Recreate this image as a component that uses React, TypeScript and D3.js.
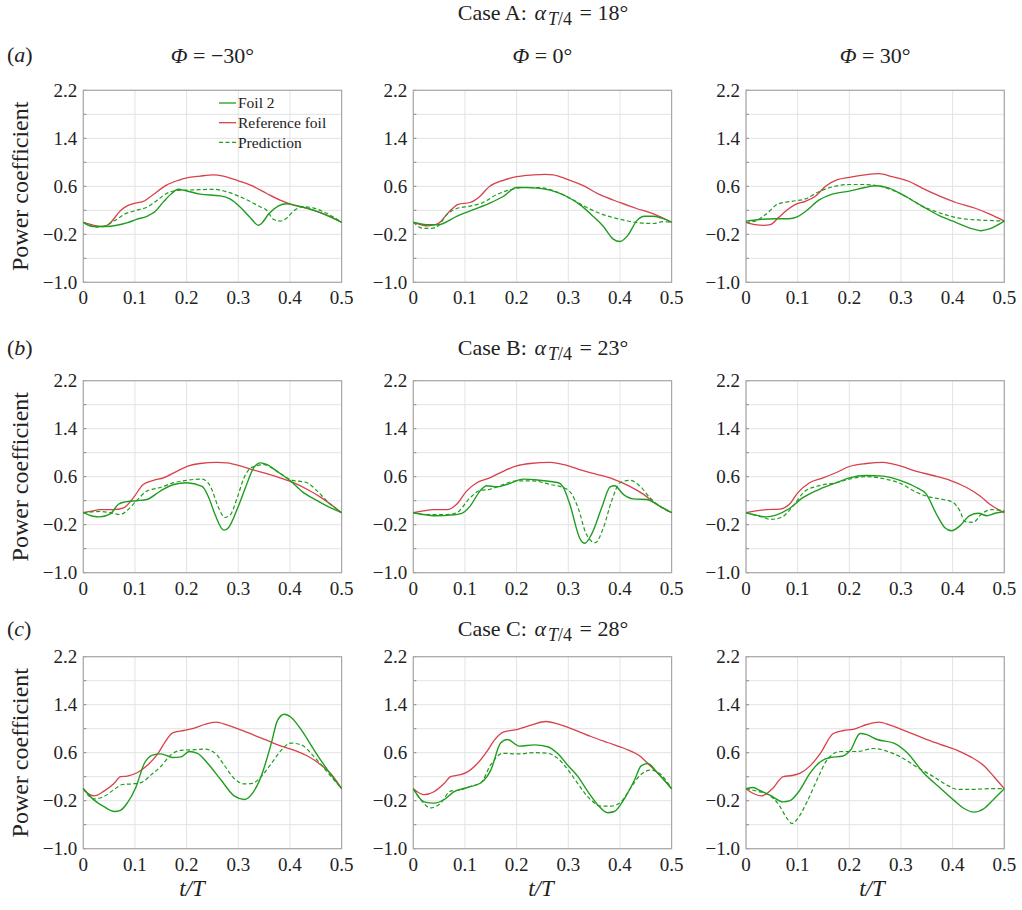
import React from "react";
import * as d3 from "d3";

type P = [number, number];

const xTicks = [0, 0.1, 0.2, 0.3, 0.4, 0.5];
const yTicks = [-1.0, -0.2, 0.6, 1.4, 2.2];
const yGrid = [-1.0, -0.6, -0.2, 0.2, 0.6, 1.0, 1.4, 1.8, 2.2];
const caseNames = ["Case A", "Case B", "Case C"];
const caseAngles = ["18°", "23°", "28°"];
const rowLabels = ["a", "b", "c"];
const phiLabels = ["−30°", "0°", "30°"];
const legendLabels = ["Foil 2", "Reference foil", "Prediction"];

// ---- Case A ----
const A1_ref: P[] = [[0,0],[0.039,-0.07],[0.048,-0.04],[0.074,0.21],[0.084,0.27],[0.097,0.31],[0.119,0.36],[0.135,0.46],[0.161,0.62],[0.184,0.70],[0.2,0.74],[0.226,0.77],[0.252,0.79],[0.271,0.77],[0.3,0.69],[0.326,0.61],[0.355,0.48],[0.381,0.37],[0.406,0.29],[0.435,0.23],[0.465,0.14],[0.5,0]];
const A1_foil: P[] = [[0,0],[0.019,-0.07],[0.042,-0.07],[0.065,-0.05],[0.084,-0.01],[0.103,0.05],[0.123,0.1],[0.139,0.18],[0.155,0.34],[0.171,0.48],[0.184,0.55],[0.197,0.53],[0.226,0.47],[0.265,0.44],[0.284,0.39],[0.303,0.26],[0.323,0.08],[0.339,-0.05],[0.345,-0.02],[0.358,0.13],[0.377,0.27],[0.394,0.31],[0.406,0.29],[0.435,0.23],[0.465,0.14],[0.5,0]];
const A1_pred: P[] = [[0,0],[0.026,-0.08],[0.042,-0.06],[0.061,0.03],[0.081,0.14],[0.103,0.2],[0.123,0.25],[0.142,0.36],[0.161,0.48],[0.181,0.53],[0.213,0.54],[0.252,0.55],[0.277,0.51],[0.31,0.4],[0.342,0.26],[0.355,0.2],[0.368,0.05],[0.381,0.02],[0.394,0.07],[0.406,0.18],[0.426,0.26],[0.445,0.24],[0.471,0.15],[0.5,0]];

const A2_ref: P[] = [[0,0],[0.029,-0.06],[0.048,-0.02],[0.071,0.19],[0.087,0.3],[0.11,0.33],[0.126,0.41],[0.148,0.6],[0.174,0.7],[0.2,0.76],[0.232,0.79],[0.255,0.8],[0.271,0.79],[0.297,0.72],[0.329,0.61],[0.361,0.46],[0.4,0.33],[0.432,0.23],[0.465,0.14],[0.5,0]];
const A2_foil: P[] = [[0,0],[0.026,-0.04],[0.048,-0.04],[0.084,0.1],[0.116,0.21],[0.148,0.32],[0.174,0.43],[0.2,0.58],[0.219,0.58],[0.239,0.57],[0.271,0.52],[0.297,0.43],[0.323,0.29],[0.348,0.1],[0.368,-0.07],[0.387,-0.28],[0.4,-0.32],[0.416,-0.21],[0.432,0.02],[0.448,0.1],[0.465,0.1],[0.484,0.06],[0.5,0]];
const A2_pred: P[] = [[0,0],[0.019,-0.1],[0.035,-0.1],[0.048,-0.06],[0.065,0.13],[0.084,0.23],[0.11,0.27],[0.135,0.33],[0.161,0.46],[0.187,0.54],[0.213,0.58],[0.239,0.58],[0.277,0.51],[0.31,0.37],[0.342,0.22],[0.374,0.11],[0.406,0.04],[0.439,-0.01],[0.465,-0.02],[0.484,0.01],[0.5,0]];

const A3_ref: P[] = [[0,0],[0.018,-0.04],[0.034,-0.05],[0.047,-0.04],[0.063,0.08],[0.08,0.21],[0.096,0.3],[0.115,0.35],[0.135,0.44],[0.154,0.6],[0.177,0.71],[0.2,0.75],[0.23,0.79],[0.257,0.81],[0.283,0.76],[0.316,0.68],[0.341,0.57],[0.374,0.44],[0.406,0.33],[0.445,0.23],[0.471,0.14],[0.5,0.02]];
const A3_foil: P[] = [[0,0.02],[0.031,0.05],[0.057,0.06],[0.083,0.06],[0.099,0.09],[0.115,0.18],[0.141,0.37],[0.167,0.47],[0.2,0.52],[0.23,0.58],[0.25,0.61],[0.277,0.57],[0.309,0.43],[0.341,0.27],[0.374,0.11],[0.406,0],[0.439,-0.11],[0.455,-0.14],[0.471,-0.11],[0.5,0.02]];
const A3_pred: P[] = [[0,0],[0.018,0.02],[0.038,0.13],[0.063,0.31],[0.089,0.35],[0.115,0.39],[0.141,0.51],[0.167,0.59],[0.2,0.63],[0.23,0.63],[0.264,0.59],[0.303,0.46],[0.341,0.27],[0.374,0.16],[0.406,0.08],[0.445,0.04],[0.471,0.03],[0.5,0.02]];

// ---- Case B ----
const B1_ref: P[] = [[0,0],[0.019,0.03],[0.032,0.05],[0.058,0.05],[0.078,0.08],[0.097,0.25],[0.116,0.47],[0.136,0.54],[0.155,0.58],[0.181,0.69],[0.204,0.78],[0.226,0.82],[0.259,0.84],[0.278,0.83],[0.304,0.78],[0.33,0.71],[0.355,0.65],[0.381,0.58],[0.407,0.5],[0.433,0.39],[0.459,0.26],[0.5,0]];
const B1_foil: P[] = [[0,0],[0.019,-0.06],[0.032,-0.07],[0.052,-0.02],[0.068,0.14],[0.081,0.18],[0.103,0.2],[0.123,0.22],[0.149,0.36],[0.175,0.47],[0.2,0.5],[0.23,0.44],[0.243,0.25],[0.255,-0.03],[0.272,-0.29],[0.281,-0.25],[0.298,0.06],[0.314,0.42],[0.33,0.75],[0.343,0.83],[0.356,0.8],[0.375,0.69],[0.401,0.53],[0.427,0.33],[0.453,0.2],[0.472,0.11],[0.5,0]];
const B1_pred: P[] = [[0,0],[0.032,0.02],[0.052,0],[0.071,-0.03],[0.084,0.03],[0.103,0.2],[0.123,0.36],[0.149,0.42],[0.175,0.5],[0.2,0.54],[0.23,0.56],[0.246,0.44],[0.262,0.08],[0.274,-0.08],[0.285,-0.03],[0.298,0.25],[0.311,0.58],[0.327,0.76],[0.35,0.8],[0.375,0.69],[0.401,0.55],[0.433,0.5],[0.453,0.36],[0.472,0.19],[0.5,0]];

const B2_ref: P[] = [[0,0],[0.019,0.03],[0.039,0.05],[0.065,0.05],[0.084,0.14],[0.103,0.36],[0.123,0.5],[0.148,0.58],[0.174,0.69],[0.2,0.78],[0.226,0.82],[0.265,0.84],[0.297,0.79],[0.329,0.7],[0.355,0.64],[0.387,0.56],[0.419,0.44],[0.445,0.31],[0.471,0.14],[0.5,0]];
const B2_foil: P[] = [[0,0],[0.019,-0.03],[0.045,-0.05],[0.071,-0.04],[0.094,-0.01],[0.11,0.11],[0.129,0.36],[0.142,0.45],[0.161,0.43],[0.181,0.47],[0.213,0.56],[0.245,0.54],[0.281,0.5],[0.29,0.43],[0.303,0.14],[0.323,-0.44],[0.332,-0.51],[0.345,-0.36],[0.365,0.09],[0.381,0.43],[0.39,0.45],[0.406,0.31],[0.426,0.23],[0.452,0.22],[0.471,0.14],[0.5,0]];
const B2_pred: P[] = [[0,0],[0.019,-0.03],[0.039,-0.03],[0.065,-0.03],[0.084,0],[0.11,0.25],[0.129,0.37],[0.148,0.39],[0.174,0.47],[0.2,0.53],[0.232,0.53],[0.265,0.47],[0.29,0.42],[0.306,0.32],[0.319,0.08],[0.335,-0.36],[0.352,-0.5],[0.368,-0.25],[0.384,0.2],[0.4,0.5],[0.419,0.54],[0.439,0.44],[0.458,0.25],[0.477,0.11],[0.5,0]];

const B3_ref: P[] = [[0,0],[0.019,0.03],[0.039,0.05],[0.065,0.06],[0.084,0.14],[0.1,0.33],[0.123,0.5],[0.149,0.58],[0.175,0.67],[0.2,0.77],[0.233,0.82],[0.265,0.84],[0.298,0.78],[0.33,0.69],[0.362,0.62],[0.395,0.54],[0.427,0.42],[0.453,0.28],[0.472,0.14],[0.5,0]];
const B3_foil: P[] = [[0,0],[0.019,-0.04],[0.039,-0.07],[0.058,-0.04],[0.084,0.07],[0.11,0.25],[0.142,0.39],[0.175,0.5],[0.2,0.58],[0.233,0.62],[0.265,0.61],[0.298,0.54],[0.33,0.42],[0.349,0.31],[0.369,-0.03],[0.385,-0.25],[0.398,-0.3],[0.414,-0.22],[0.433,-0.05],[0.45,-0.01],[0.466,-0.05],[0.482,-0.01],[0.5,0.02]];
const B3_pred: P[] = [[0,0],[0.026,-0.06],[0.049,-0.11],[0.068,-0.08],[0.091,0.11],[0.113,0.35],[0.142,0.45],[0.175,0.5],[0.2,0.56],[0.233,0.6],[0.265,0.57],[0.298,0.49],[0.33,0.34],[0.356,0.26],[0.382,0.22],[0.401,0.17],[0.414,0.03],[0.424,-0.15],[0.44,-0.16],[0.456,-0.02],[0.475,0.05],[0.5,0.03]];

// ---- Case C ----
const C1_ref: P[] = [[0,0],[0.011,-0.09],[0.021,-0.12],[0.04,-0.04],[0.06,0.09],[0.072,0.2],[0.085,0.21],[0.105,0.27],[0.124,0.39],[0.144,0.58],[0.157,0.76],[0.173,0.93],[0.195,0.97],[0.215,1.01],[0.234,1.07],[0.257,1.11],[0.279,1.06],[0.305,0.98],[0.331,0.89],[0.357,0.8],[0.383,0.71],[0.409,0.64],[0.435,0.54],[0.461,0.39],[0.48,0.24],[0.5,0]];
const C1_foil: P[] = [[0,0],[0.021,-0.19],[0.04,-0.3],[0.06,-0.38],[0.072,-0.36],[0.085,-0.24],[0.102,0.03],[0.118,0.42],[0.134,0.56],[0.15,0.58],[0.173,0.52],[0.189,0.53],[0.205,0.62],[0.221,0.59],[0.241,0.42],[0.267,0.14],[0.292,-0.12],[0.312,-0.18],[0.328,-0.07],[0.344,0.2],[0.364,0.76],[0.376,1.14],[0.389,1.24],[0.402,1.19],[0.422,0.98],[0.447,0.64],[0.473,0.31],[0.5,0]];
const C1_pred: P[] = [[0,0],[0.021,-0.17],[0.04,-0.13],[0.06,-0.01],[0.076,0.07],[0.095,0.08],[0.114,0.11],[0.131,0.23],[0.15,0.37],[0.169,0.56],[0.189,0.64],[0.215,0.65],[0.234,0.66],[0.254,0.6],[0.273,0.39],[0.292,0.17],[0.312,0.08],[0.328,0.09],[0.344,0.2],[0.364,0.42],[0.383,0.64],[0.402,0.76],[0.422,0.73],[0.447,0.53],[0.473,0.27],[0.5,0]];

const C2_ref: P[] = [[0,0],[0.021,-0.1],[0.04,-0.05],[0.06,0.09],[0.072,0.2],[0.089,0.23],[0.105,0.28],[0.124,0.42],[0.144,0.64],[0.157,0.81],[0.173,0.94],[0.202,0.99],[0.228,1.06],[0.257,1.12],[0.279,1.08],[0.312,0.98],[0.344,0.87],[0.376,0.77],[0.409,0.67],[0.441,0.53],[0.454,0.42],[0.473,0.26],[0.5,0]];
const C2_foil: P[] = [[0,0],[0.021,-0.22],[0.04,-0.24],[0.06,-0.18],[0.079,-0.05],[0.105,0.02],[0.131,0.1],[0.15,0.31],[0.169,0.76],[0.182,0.82],[0.205,0.71],[0.234,0.73],[0.26,0.7],[0.279,0.59],[0.299,0.39],[0.318,0.21],[0.338,-0.05],[0.357,-0.27],[0.376,-0.4],[0.389,-0.38],[0.409,-0.16],[0.428,0.14],[0.441,0.38],[0.454,0.42],[0.473,0.26],[0.5,0]];
const C2_pred: P[] = [[0,0],[0.014,-0.18],[0.034,-0.32],[0.053,-0.24],[0.072,-0.04],[0.092,-0.02],[0.111,0.04],[0.131,0.1],[0.15,0.4],[0.173,0.59],[0.202,0.58],[0.234,0.6],[0.26,0.59],[0.279,0.51],[0.299,0.32],[0.318,0.09],[0.344,-0.19],[0.364,-0.29],[0.383,-0.29],[0.402,-0.22],[0.422,0.03],[0.441,0.24],[0.46,0.31],[0.48,0.23],[0.5,0]];

const C3_ref: P[] = [[0,0],[0.014,-0.08],[0.03,-0.12],[0.05,-0.01],[0.072,0.2],[0.089,0.22],[0.105,0.26],[0.124,0.38],[0.144,0.59],[0.169,0.92],[0.189,0.97],[0.208,0.99],[0.234,1.07],[0.257,1.11],[0.279,1.06],[0.312,0.95],[0.344,0.84],[0.376,0.74],[0.409,0.64],[0.435,0.53],[0.461,0.38],[0.48,0.2],[0.5,0]];
const C3_foil: P[] = [[0,0],[0.014,0.02],[0.027,-0.03],[0.047,-0.11],[0.072,-0.22],[0.085,-0.2],[0.102,-0.05],[0.124,0.26],[0.144,0.45],[0.163,0.52],[0.186,0.54],[0.202,0.64],[0.221,0.92],[0.234,0.9],[0.254,0.82],[0.286,0.76],[0.312,0.6],[0.344,0.26],[0.376,0.01],[0.402,-0.19],[0.422,-0.33],[0.441,-0.39],[0.461,-0.33],[0.48,-0.17],[0.5,0]];
const C3_pred: P[] = [[0,0],[0.021,-0.04],[0.047,-0.12],[0.063,-0.26],[0.079,-0.49],[0.089,-0.58],[0.098,-0.52],[0.118,-0.22],[0.137,0.14],[0.157,0.48],[0.182,0.62],[0.215,0.62],[0.247,0.67],[0.267,0.64],[0.299,0.53],[0.331,0.36],[0.363,0.2],[0.389,0.06],[0.409,-0.01],[0.441,-0.01],[0.473,0],[0.5,0]];

const panelData: { foil: P[]; ref: P[]; pred: P[] }[][] = [
  [
    { foil: A1_foil, ref: A1_ref, pred: A1_pred },
    { foil: A2_foil, ref: A2_ref, pred: A2_pred },
    { foil: A3_foil, ref: A3_ref, pred: A3_pred },
  ],
  [
    { foil: B1_foil, ref: B1_ref, pred: B1_pred },
    { foil: B2_foil, ref: B2_ref, pred: B2_pred },
    { foil: B3_foil, ref: B3_ref, pred: B3_pred },
  ],
  [
    { foil: C1_foil, ref: C1_ref, pred: C1_pred },
    { foil: C2_foil, ref: C2_ref, pred: C2_pred },
    { foil: C3_foil, ref: C3_ref, pred: C3_pred },
  ],
];

const W = 1022;
const H = 910;
const colLeft = [83.3, 413.3, 746];
const rowTop = [90.3, 380.7, 656.7];
const PW = 258.3;
const PH = 192;
const GREEN = "#1f9d1f";
const RED = "#d8414c";
const FONT = "Liberation Serif, DejaVu Serif, Times New Roman, serif";
const TXT: React.CSSProperties = { fontFamily: FONT, whiteSpace: "pre" };

const fmtY = (v: number) => (v < 0 ? "−" + Math.abs(v).toFixed(1) : v.toFixed(1));
const fmtX = (v: number) => (v === 0 ? "0" : v.toFixed(1));

function Panel({ r, c }: { r: number; c: number }) {
  const x0 = colLeft[c];
  const y0 = rowTop[r];
  const x = d3.scaleLinear().domain([0, 0.5]).range([x0, x0 + PW]);
  const y = d3.scaleLinear().domain([-1, 2.2]).range([y0 + PH, y0]);
  const line = d3
    .line<P>()
    .x((d) => x(d[0]))
    .y((d) => y(d[1]))
    .curve(d3.curveMonotoneX);
  const data = panelData[r][c];
  return (
    <g>
      {yGrid.map((v) => (
        <line key={"gy" + v} x1={x0} x2={x0 + PW} y1={y(v)} y2={y(v)} stroke="#e3e3e3" strokeWidth={1} />
      ))}
      {xTicks.map((v) => (
        <line key={"gx" + v} x1={x(v)} x2={x(v)} y1={y0} y2={y0 + PH} stroke="#e3e3e3" strokeWidth={1} />
      ))}
      {yGrid.map((v) => (
        <line key={"ty" + v} x1={x0} x2={x0 + 3} y1={y(v)} y2={y(v)} stroke="#888" strokeWidth={1} />
      ))}
      <rect x={x0} y={y0} width={PW} height={PH} fill="none" stroke="#a8a8a8" strokeWidth={1.2} />
      <path d={line(data.ref) || ""} fill="none" stroke={RED} strokeWidth={1.3} />
      <path d={line(data.pred) || ""} fill="none" stroke={GREEN} strokeWidth={1.2} strokeDasharray="4,2.5" />
      <path d={line(data.foil) || ""} fill="none" stroke={GREEN} strokeWidth={1.4} />
      {yTicks.map((v) => (
        <text key={"yl" + v} x={x0 - 6} y={y(v)} dy="0.35em" textAnchor="end" fontSize={19} style={TXT} fill="#222">
          {fmtY(v)}
        </text>
      ))}
      {xTicks.map((v) => (
        <text key={"xl" + v} x={x(v)} y={y0 + PH + 22} textAnchor="middle" fontSize={19} style={TXT} fill="#222">
          {fmtX(v)}
        </text>
      ))}
    </g>
  );
}

export default function App() {
  const titleY = [20, 355, 636];
  const tLabelX = [192, 541, 872];
  return (
    <svg width={W} height={H} style={{ display: "block", position: "absolute", left: 0, top: 0, background: "#fff" }}>
      <rect x={0} y={0} width={W} height={H} fill="#fff" />
      {caseNames.map((nm, r) => (
        <g key={"t" + r}>
          <text x={543} y={titleY[r]} textAnchor="middle" fontSize={22} style={TXT} fill="#222">
            {nm + ": "}
            <tspan fontStyle="italic" dx={2}>α</tspan>
            <tspan fontStyle="italic" fontSize={18} dy={5} dx={2}>T</tspan>
            <tspan fontSize={18}>/4</tspan>
            <tspan dy={-5} dx={2}>{" = " + caseAngles[r]}</tspan>
          </text>
          <text x={7} y={titleY[r] + (r === 0 ? 42 : 0)} fontSize={22} style={TXT} fill="#222">
            (<tspan fontStyle="italic">{rowLabels[r]}</tspan>)
          </text>
          <text
            transform={`translate(28,${rowTop[r] + PH / 2}) rotate(-90)`}
            textAnchor="middle"
            fontSize={24}
            style={TXT}
            fill="#222"
          >
            Power coefficient
          </text>
        </g>
      ))}
      {phiLabels.map((p, c) => (
        <text key={"phi" + c} x={colLeft[c] + PW / 2} y={63} textAnchor="middle" fontSize={22} style={TXT} fill="#222">
          <tspan fontStyle="italic">Φ</tspan>
          {" = " + p}
        </text>
      ))}
      {[0, 1, 2].map((r) => [0, 1, 2].map((c) => <Panel key={r + "-" + c} r={r} c={c} />))}
      {tLabelX.map((tx, i) => (
        <text key={"tT" + i} x={tx} y={896} textAnchor="middle" fontSize={23} style={TXT} fontStyle="italic" fill="#222">
          t/T
        </text>
      ))}
      {legendLabels.map((lab, i) => {
        const ly = 103 + i * 19.7;
        return (
          <g key={"lg" + i}>
            <line
              x1={219}
              x2={236}
              y1={ly}
              y2={ly}
              stroke={i === 1 ? RED : GREEN}
              strokeWidth={1.3}
              strokeDasharray={i === 2 ? "4,2.5" : undefined}
            />
            <text x={238} y={ly} dy="0.35em" fontSize={15.5} style={TXT} fill="#222">
              {lab}
            </text>
          </g>
        );
      })}
    </svg>
  );
}
